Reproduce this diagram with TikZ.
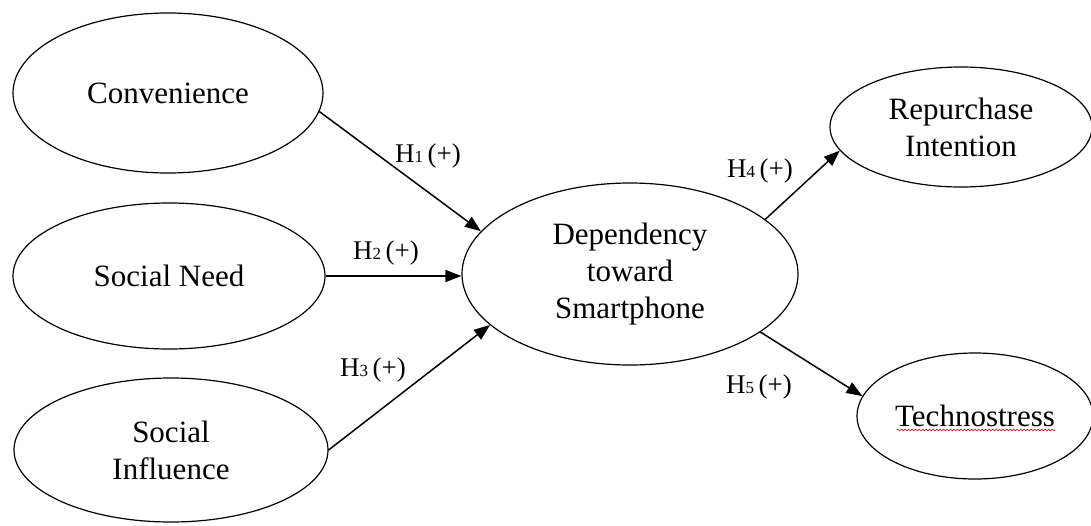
\documentclass[tikz,border=0pt]{standalone}
\usepackage{fontspec}
\setmainfont{Liberation Serif}
\usetikzlibrary{arrows.meta,shapes.geometric,decorations.pathmorphing}
\newcommand{\hyp}[1]{H{\fontsize{17}{17}\selectfont #1}\,(+)}
\tikzset{
  construct/.style={ellipse, draw, line width=1.2pt, inner sep=0pt, align=center,
    font=\fontsize{31}{37}\selectfont},
  path arrow/.style={line width=1.5pt, -{Triangle[length=16pt,width=12pt]}},
  hlabel/.style={font=\fontsize{27}{30}\selectfont, inner sep=0pt},
}
\begin{document}
\begin{tikzpicture}[x=1pt,y=-1pt]
\clip (0,0) rectangle (1091,525);
\fill[white] (0,0) rectangle (1091,525);

\node[construct, minimum width=310pt, minimum height=160pt] (conv) at (168,93) {Convenience};
\node[construct, minimum width=312pt, minimum height=146pt] (sn) at (169,276) {Social Need};
\node[construct, minimum width=314pt, minimum height=144pt] (si) at (171,450) {Social\\Influence};
\node[construct, minimum width=336pt, minimum height=182pt] (dep) at (630,274) {Dependency\\toward\\Smartphone};
\node[construct, minimum width=262pt, minimum height=120pt] (rep) at (961,127) {Repurchase\\Intention};
\node[construct, minimum width=236pt, minimum height=126pt] (tech) at (975,416) {Technostress};

\draw[red!80!black, line width=0.6pt, decorate, decoration={snake, amplitude=0.9pt, segment length=3.5pt}]
  ([xshift=-78pt,yshift=-14pt]tech.center) -- ([xshift=80pt,yshift=-14pt]tech.center);

\draw[path arrow] (conv.-7.5) -- (dep.164.5);
\draw[path arrow] (sn.east) -- (sn.east -| dep.west);
\draw[path arrow] (si.-0.7) -- (dep.200.1);
\draw[path arrow] (dep.22.1) -- (rep.191.5);
\draw[path arrow] (dep.-24.7) -- (tech.170.3);

\node[hlabel] (h1) at (428,156) {\hyp{1}};
\node[hlabel] (h2) at (386,253) {\hyp{2}};
\node[hlabel] (h3) at (373,370) {\hyp{3}};
\node[hlabel] (h4) at (760,171) {\hyp{4}};
\node[hlabel] (h5) at (759,387) {\hyp{5}};
\end{tikzpicture}
\end{document}
